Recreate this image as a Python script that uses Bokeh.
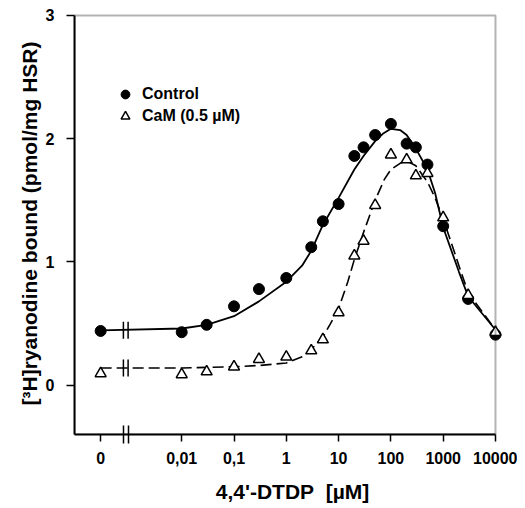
import math
from bokeh.plotting import figure
from bokeh.models import (Range1d, FixedTicker, CustomJSTickFormatter, Legend, LegendItem,
                          BoxAnnotation)
from bokeh.embed import file_html
from bokeh.resources import INLINE

# ---------------- data ----------------
conc = [0, 0.01, 0.03, 0.1, 0.3, 1, 3, 5, 10, 20, 30, 50, 100, 200, 300, 500, 1000, 3000, 10000]
control = [0.44, 0.43, 0.49, 0.64, 0.78, 0.87, 1.12, 1.33, 1.47, 1.86, 1.93, 2.03, 2.12,
           1.96, 1.93, 1.79, 1.29, 0.70, 0.41]
cam = [0.095, 0.087, 0.11, 0.15, 0.21, 0.23, 0.28, 0.37, 0.59, 1.05, 1.17, 1.46, 1.87,
       1.83, 1.70, 1.72, 1.36, 0.73, 0.43]

fit_conc_control = [0, 0.01, 0.03, 0.1, 0.3, 1, 2, 3, 5, 10, 20, 30, 50, 70, 100, 150,
                    200, 300, 500, 700, 1000, 2000, 3000, 10000]
fit_control = [0.445, 0.46, 0.49, 0.56, 0.68, 0.84, 0.97, 1.09, 1.30, 1.52, 1.75, 1.86,
               1.98, 2.04, 2.08, 2.07, 2.03, 1.92, 1.75, 1.56, 1.28, 0.92, 0.72, 0.45]

fit_conc_cam = [0, 0.01, 0.1, 0.3, 1, 2, 3, 5, 7, 10, 15, 20, 30, 50, 75, 100, 150, 200,
                300, 500, 700, 1000, 2000, 3000, 10000]
fit_cam = [0.14, 0.14, 0.15, 0.16, 0.18, 0.23, 0.29, 0.39, 0.50, 0.62, 0.84, 1.02, 1.24,
           1.50, 1.67, 1.75, 1.80, 1.82, 1.78, 1.65, 1.52, 1.35, 0.97, 0.75, 0.45]

tick_conc = [0, 0.01, 0.1, 1, 10, 100, 1000, 10000]
tick_labels = ["0", "0,01", "0,1", "1", "10", "100", "1000", "10000"]
y_ticks = [0, 1, 2, 3]

# broken log axis: "0" is shown left of the axis break
ZERO_POS = -3.55
BREAK_POS = -3.07
BREAK_HALF_GAP = 0.045
X_MIN, X_MAX = -4.05, 4.0
Y_MIN, Y_MAX = -0.4, 3.0


def xpos(c):
    return ZERO_POS if c == 0 else math.log10(c)


FONT = "Liberation Sans"

# frame box is drawn as an annotation; the plot range is slightly wider on the
# right/top so that markers on the border are not clipped
p = figure(width=517, height=508, output_backend="svg", toolbar_location=None,
           x_range=Range1d(X_MIN, 4.287), y_range=Range1d(Y_MIN, 3.024),
           min_border_left=74, min_border_right=7, min_border_top=12, min_border_bottom=74)

p.xgrid.visible = False
p.ygrid.visible = False
p.outline_line_color = None
p.background_fill_color = "white"
p.border_fill_color = "white"

p.add_layout(BoxAnnotation(left=X_MIN, right=X_MAX, bottom=Y_MIN, top=Y_MAX,
                           fill_alpha=0, line_color="black", line_width=2))

# fitted curves
p.line([xpos(c) for c in fit_conc_control], fit_control, line_color="black", line_width=1.8)
p.line([xpos(c) for c in fit_conc_cam], fit_cam, line_color="black", line_width=1.6,
       line_dash="11 5")

# break marks on the curves
bx = [BREAK_POS - BREAK_HALF_GAP, BREAK_POS + BREAK_HALF_GAP]
p.scatter(bx + bx, [fit_control[0]] * 2 + [fit_cam[0]] * 2, marker="dash",
          angle=math.pi / 2, size=17, line_color="black", line_width=1.5)

# data points
r_ctrl = p.scatter([xpos(c) for c in conc], control, marker="circle", size=11,
                   fill_color="black", line_color="black")
r_cam = p.scatter([xpos(c) for c in conc], cam, marker="triangle", size=11,
                  fill_color="white", line_color="black", line_width=1.5)

# axes
tick_pos = [xpos(c) for c in tick_conc]
p.xaxis.ticker = FixedTicker(ticks=tick_pos, minor_ticks=bx)
p.xaxis.formatter = CustomJSTickFormatter(
    args=dict(pos=tick_pos, lab=tick_labels),
    code="""
    let best = 0; let bd = 1e9;
    for (let k = 0; k < pos.length; k++) {
        const d = Math.abs(pos[k] - tick);
        if (d < bd) { bd = d; best = k; }
    }
    return lab[best];
    """)
p.yaxis.ticker = FixedTicker(ticks=y_ticks)
p.xaxis.bounds = (X_MIN, X_MAX)
p.yaxis.bounds = (Y_MIN, Y_MAX)

for ax in (p.xaxis, p.yaxis):
    ax.axis_line_width = 2
    ax.axis_line_color = "black"
    ax.major_tick_line_width = 1.5
    ax.major_tick_in = 0
    ax.major_label_text_font = FONT
    ax.major_label_text_font_size = "16px"
    ax.major_label_text_font_style = "bold"
    ax.major_label_text_color = "black"
    ax.axis_label_text_font = FONT
    ax.axis_label_text_font_size = "21px"
    ax.axis_label_text_font_style = "bold"
    ax.axis_label_text_color = "black"

p.xaxis.major_tick_out = 7
p.xaxis.minor_tick_in = 9
p.xaxis.minor_tick_out = 9
p.xaxis.minor_tick_line_width = 1.5
p.xaxis.minor_tick_line_color = "black"
p.xaxis.major_label_standoff = 8
p.xaxis.axis_label = "4,4'-DTDP\u00a0\u00a0[µM]"
p.xaxis.axis_label_standoff = 13

p.yaxis.major_tick_out = 8
p.yaxis.minor_tick_line_color = None
p.yaxis.major_label_standoff = 12
p.yaxis.axis_label = "[³H]ryanodine bound (pmol/mg HSR)"
p.yaxis.axis_label_standoff = 2

legend = Legend(items=[LegendItem(label="Control", renderers=[r_ctrl]),
                       LegendItem(label="CaM (0.5 µM)", renderers=[r_cam])],
                location=(40, 307), orientation="vertical",
                glyph_width=22, glyph_height=22, label_height=22, spacing=0,
                padding=0, margin=0, label_standoff=6,
                border_line_color=None, background_fill_alpha=0,
                label_text_font=FONT, label_text_font_size="16px",
                label_text_font_style="bold", label_text_color="black")
p.add_layout(legend)

open("out.html", "w").write(file_html(p, INLINE))
